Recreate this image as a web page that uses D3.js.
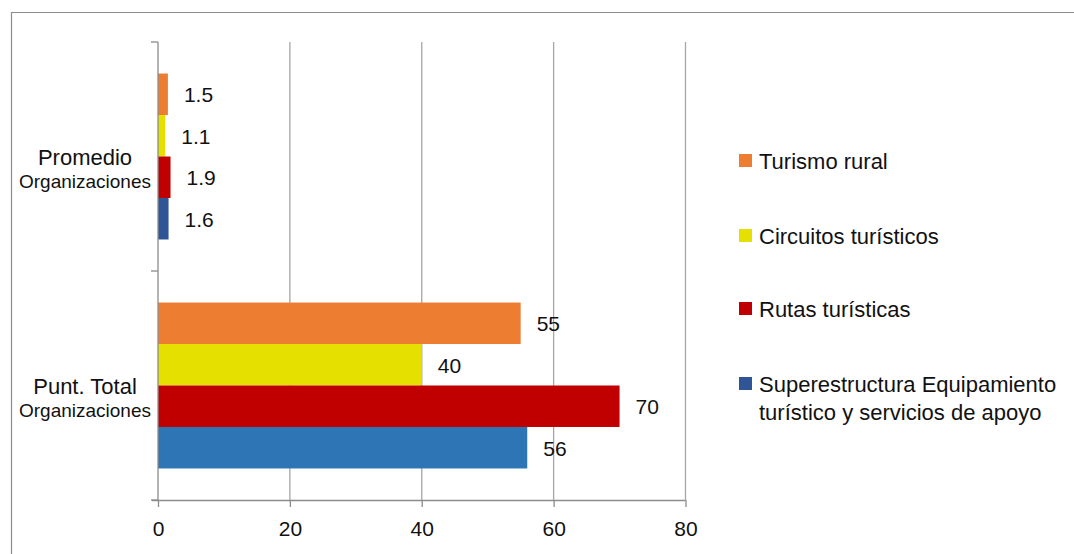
<!DOCTYPE html>
<html>
<head>
<meta charset="utf-8">
<script src="https://cdn.jsdelivr.net/npm/d3@7"></script>
<style>
  html, body { margin: 0; padding: 0; background: #fff; }
  svg { display: block; font-family: "Liberation Sans", Arial, sans-serif; }
</style>
</head>
<body>
<svg id="chart" width="1074" height="554"></svg>
<script>
// ---- data ----
const categories = ["Promedio Organizaciones", "Punt. Total Organizaciones"];
const categoryLines = [["Promedio", "Organizaciones"], ["Punt. Total", "Organizaciones"]];
const seriesNames = ["Turismo rural", "Circuitos turísticos", "Rutas turísticas", "Superestructura Equipamiento turístico y servicios de apoyo"];
const legendLines = [["Turismo rural"], ["Circuitos turísticos"], ["Rutas turísticas"], ["Superestructura Equipamiento", "turístico y servicios de apoyo"]];
const promedioValues = [1.5, 1.1, 1.9, 1.6];
const totalValues = [55, 40, 70, 56];
const promedioLabels = ["1.5", "1.1", "1.9", "1.6"];
const totalLabels = ["55", "40", "70", "56"];
const xTicks = [0, 20, 40, 60, 80];

const seriesColors = ["#ED7D31", "#E5E000", "#C00000", "#2F5597"];
const totalColors = ["#ED7D31", "#E5E000", "#C00000", "#2E75B6"];

const rows = [
  { cat: categories[0], values: promedioValues, labels: promedioLabels, colors: seriesColors },
  { cat: categories[1], values: totalValues, labels: totalLabels, colors: totalColors }
];

const svg = d3.select("#chart");

// outer border (chart area)
svg.append("path")
  .attr("d", "M11.5,554 L11.5,12.5 L1074,12.5")
  .attr("fill", "none").attr("stroke", "#8C8C8C").attr("stroke-width", 1.2);

const pLeft = 158, pRight = 685.5, pTop = 42, pBottom = 500;

const x = d3.scaleLinear().domain([0, 80]).range([pLeft, pRight]);
const y0 = d3.scaleBand().domain(categories).range([pTop, pBottom]).paddingInner(0).paddingOuter(0);
const y1 = d3.scaleBand().domain(seriesNames).range([0, y0.bandwidth()]).paddingInner(0).paddingOuter(0.76);

// grid lines
svg.append("g").selectAll("line").data(xTicks.slice(1)).join("line")
  .attr("x1", d => x(d)).attr("x2", d => x(d))
  .attr("y1", pTop).attr("y2", pBottom)
  .attr("stroke", "#A6A6A6").attr("stroke-width", 1.3);

// bars
const groups = svg.append("g").selectAll("g").data(rows).join("g")
  .attr("transform", d => `translate(0,${y0(d.cat)})`);

groups.selectAll("rect").data(d => d.values.map((v, i) => ({ v, i, color: d.colors[i], label: d.labels[i] }))).join("rect")
  .attr("x", x(0))
  .attr("y", d => y1(seriesNames[d.i]))
  .attr("width", d => x(d.v) - x(0))
  .attr("height", y1.bandwidth())
  .attr("fill", d => d.color);

groups.selectAll("text").data(d => d.values.map((v, i) => ({ v, i, label: d.labels[i] }))).join("text")
  .attr("x", d => x(d.v) + 16)
  .attr("y", d => y1(seriesNames[d.i]) + y1.bandwidth() / 2 + 8)
  .attr("font-size", 21)
  .attr("fill", "#111")
  .text(d => d.label);

// x axis
const xAxis = d3.axisBottom(x).tickValues(xTicks).tickSize(7).tickPadding(14).tickFormat(d3.format("d"));
const gx = svg.append("g").attr("transform", `translate(0,${pBottom})`).call(xAxis);
gx.select(".domain").attr("stroke", "#8C8C8C").attr("stroke-width", 1.3).attr("d", `M${pLeft - 6},0.5H${pRight}`);
gx.selectAll(".tick line").attr("stroke", "#8C8C8C").attr("stroke-width", 1.3);
gx.selectAll(".tick text").attr("font-size", 21).attr("fill", "#111").attr("font-family", "Liberation Sans, Arial, sans-serif");

// y axis
const yTickPos = [pTop, y0(categories[1]), pBottom];
svg.append("line").attr("x1", pLeft).attr("x2", pLeft).attr("y1", pTop).attr("y2", pBottom)
  .attr("stroke", "#8C8C8C").attr("stroke-width", 1.3);
svg.append("g").selectAll("line").data(yTickPos).join("line")
  .attr("x1", pLeft - 7).attr("x2", pLeft).attr("y1", d => d).attr("y2", d => d)
  .attr("stroke", "#8C8C8C").attr("stroke-width", 1.3);

// category labels
const catG = svg.append("g").selectAll("text").data(categories).join("text")
  .attr("text-anchor", "middle")
  .attr("fill", "#111");
catG.each(function(c, i) {
  const cy = y0(c) + y0.bandwidth() / 2;
  const t = d3.select(this);
  t.append("tspan").attr("x", 85).attr("y", cy + 8).attr("font-size", 22).text(categoryLines[i][0]);
  t.append("tspan").attr("x", 85).attr("y", cy + 31).attr("font-size", 19).text(categoryLines[i][1]);
});

// legend
const legendY = [161, 236, 309, 384];
const lg = svg.append("g").selectAll("g").data(seriesNames).join("g")
  .attr("transform", (d, i) => `translate(739,${legendY[i]})`);
lg.append("rect").attr("x", 0).attr("y", -7).attr("width", 13).attr("height", 13)
  .attr("fill", (d, i) => seriesColors[i]);
lg.append("text").attr("fill", "#111").attr("font-size", 22)
  .each(function(d, i) {
    const t = d3.select(this);
    legendLines[i].forEach((ln, j) => {
      t.append("tspan").attr("x", 20).attr("y", 8 + j * 28).text(ln);
    });
  });
</script>
</body>
</html>
